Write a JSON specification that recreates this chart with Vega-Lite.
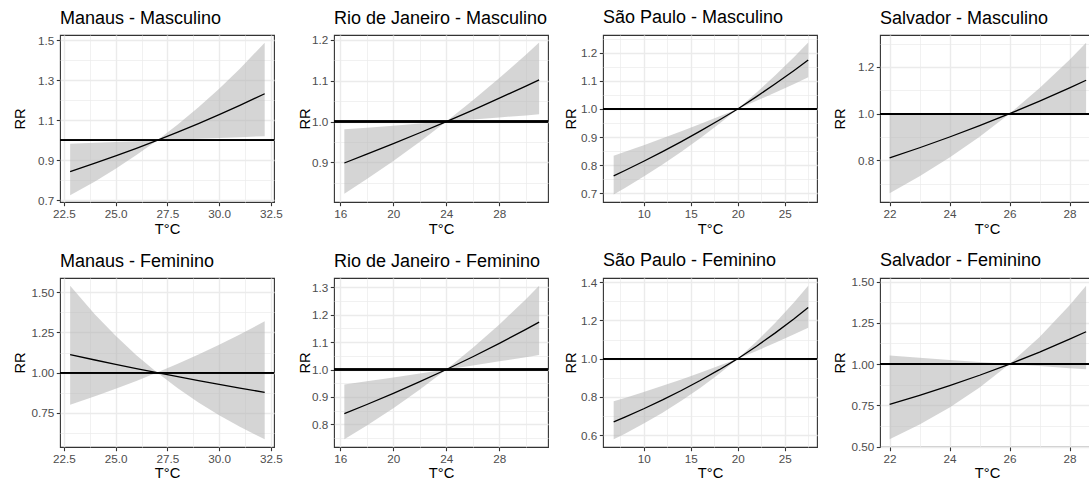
{
  "$schema": "https://vega.github.io/schema/vega-lite/v6.json",
  "padding": {"left": 11, "top": 8, "right": 0, "bottom": 0},
  "columns": 4,
  "spacing": {"row": 13, "column": 13},
  "align": "each",
  "bounds": "full",
  "datasets": {
    "mm": [
      {"t": 22.8, "rr": 0.8443, "lo": 0.7252, "hi": 0.9833},
      {"t": 24, "rr": 0.8861, "lo": 0.7949, "hi": 0.9881},
      {"t": 25, "rr": 0.9226, "lo": 0.8581, "hi": 0.992},
      {"t": 26, "rr": 0.9605, "lo": 0.9264, "hi": 0.996},
      {"t": 27, "rr": 1, "lo": 1, "hi": 1},
      {"t": 28, "rr": 1.0411, "lo": 1.004, "hi": 1.0795},
      {"t": 29, "rr": 1.0839, "lo": 1.008, "hi": 1.1653},
      {"t": 30, "rr": 1.1285, "lo": 1.0121, "hi": 1.258},
      {"t": 31, "rr": 1.1749, "lo": 1.0161, "hi": 1.358},
      {"t": 32.2, "rr": 1.2332, "lo": 1.021, "hi": 1.4886}
    ],
    "mf": [
      {"t": 22.8, "rr": 1.1116, "lo": 0.7994, "hi": 1.5413},
      {"t": 24, "rr": 1.0785, "lo": 0.8522, "hi": 1.3621},
      {"t": 25, "rr": 1.0517, "lo": 0.8989, "hi": 1.2288},
      {"t": 26, "rr": 1.0255, "lo": 0.9481, "hi": 1.1085},
      {"t": 27, "rr": 1, "lo": 1, "hi": 1},
      {"t": 28, "rr": 0.9751, "lo": 0.9021, "hi": 1.0547},
      {"t": 29, "rr": 0.9508, "lo": 0.8138, "hi": 1.1124},
      {"t": 30, "rr": 0.9272, "lo": 0.7342, "hi": 1.1734},
      {"t": 31, "rr": 0.9041, "lo": 0.6623, "hi": 1.2376},
      {"t": 32.2, "rr": 0.8772, "lo": 0.5853, "hi": 1.3194}
    ],
    "rm": [
      {"t": 16.3, "rr": 0.8985, "lo": 0.823, "hi": 0.9809},
      {"t": 18, "rr": 0.92, "lo": 0.8592, "hi": 0.9851},
      {"t": 20, "rr": 0.9459, "lo": 0.9037, "hi": 0.99},
      {"t": 22, "rr": 0.9726, "lo": 0.9507, "hi": 0.995},
      {"t": 24, "rr": 1, "lo": 1, "hi": 1},
      {"t": 26, "rr": 1.0282, "lo": 1.005, "hi": 1.0519},
      {"t": 28, "rr": 1.0572, "lo": 1.0101, "hi": 1.1065},
      {"t": 30, "rr": 1.087, "lo": 1.0151, "hi": 1.1639},
      {"t": 31, "rr": 1.1022, "lo": 1.0177, "hi": 1.1937}
    ],
    "rf": [
      {"t": 16.3, "rr": 0.8396, "lo": 0.7463, "hi": 0.9453},
      {"t": 18, "rr": 0.8727, "lo": 0.7961, "hi": 0.9571},
      {"t": 20, "rr": 0.9132, "lo": 0.859, "hi": 0.9712},
      {"t": 22, "rr": 0.9556, "lo": 0.9268, "hi": 0.9855},
      {"t": 24, "rr": 1, "lo": 1, "hi": 1},
      {"t": 26, "rr": 1.0464, "lo": 1.0147, "hi": 1.079},
      {"t": 28, "rr": 1.095, "lo": 1.0296, "hi": 1.1642},
      {"t": 30, "rr": 1.1459, "lo": 1.0448, "hi": 1.2561},
      {"t": 31, "rr": 1.1722, "lo": 1.0524, "hi": 1.3047}
    ],
    "sm": [
      {"t": 6.8, "rr": 0.7619, "lo": 0.6956, "hi": 0.8334},
      {"t": 8, "rr": 0.781, "lo": 0.7189, "hi": 0.8474},
      {"t": 10, "rr": 0.8139, "lo": 0.7596, "hi": 0.8711},
      {"t": 12, "rr": 0.8481, "lo": 0.8025, "hi": 0.8955},
      {"t": 14, "rr": 0.8837, "lo": 0.8479, "hi": 0.9205},
      {"t": 16, "rr": 0.9209, "lo": 0.8958, "hi": 0.9463},
      {"t": 18, "rr": 0.9596, "lo": 0.9465, "hi": 0.9728},
      {"t": 20, "rr": 1, "lo": 1, "hi": 1},
      {"t": 22, "rr": 1.0437, "lo": 1.0288, "hi": 1.0582},
      {"t": 24, "rr": 1.0894, "lo": 1.0584, "hi": 1.1199},
      {"t": 26, "rr": 1.137, "lo": 1.0889, "hi": 1.1851},
      {"t": 27.5, "rr": 1.1741, "lo": 1.1124, "hi": 1.2365}
    ],
    "sf": [
      {"t": 6.8, "rr": 0.6703, "lo": 0.579, "hi": 0.7772},
      {"t": 8, "rr": 0.6952, "lo": 0.6085, "hi": 0.7952},
      {"t": 10, "rr": 0.7386, "lo": 0.661, "hi": 0.8261},
      {"t": 12, "rr": 0.7848, "lo": 0.7181, "hi": 0.8583},
      {"t": 14, "rr": 0.8338, "lo": 0.78, "hi": 0.8917},
      {"t": 16, "rr": 0.8859, "lo": 0.8474, "hi": 0.9264},
      {"t": 18, "rr": 0.9412, "lo": 0.9205, "hi": 0.9625},
      {"t": 20, "rr": 1, "lo": 1, "hi": 1},
      {"t": 22, "rr": 1.0652, "lo": 1.0406, "hi": 1.0898},
      {"t": 24, "rr": 1.1347, "lo": 1.0829, "hi": 1.1877},
      {"t": 26, "rr": 1.2088, "lo": 1.1268, "hi": 1.2943},
      {"t": 27.5, "rr": 1.2674, "lo": 1.161, "hi": 1.3806}
    ],
    "vm": [
      {"t": 22, "rr": 0.8106, "lo": 0.6597, "hi": 0.996},
      {"t": 23, "rr": 0.8543, "lo": 0.732, "hi": 0.997},
      {"t": 24, "rr": 0.9003, "lo": 0.8122, "hi": 0.998},
      {"t": 25, "rr": 0.9489, "lo": 0.9012, "hi": 0.999},
      {"t": 26, "rr": 1, "lo": 1, "hi": 1},
      {"t": 27, "rr": 1.0539, "lo": 1.001, "hi": 1.1096},
      {"t": 28, "rr": 1.1107, "lo": 1.002, "hi": 1.2312},
      {"t": 28.55, "rr": 1.1433, "lo": 1.0026, "hi": 1.3037}
    ],
    "vf": [
      {"t": 22, "rr": 0.7552, "lo": 0.5434, "hi": 1.0513},
      {"t": 23, "rr": 0.8101, "lo": 0.6329, "hi": 1.0382},
      {"t": 24, "rr": 0.869, "lo": 0.7371, "hi": 1.0253},
      {"t": 25, "rr": 0.9322, "lo": 0.8586, "hi": 1.0126},
      {"t": 26, "rr": 1, "lo": 1, "hi": 1},
      {"t": 27, "rr": 1.0727, "lo": 0.9876, "hi": 1.1647},
      {"t": 28, "rr": 1.1507, "lo": 0.9753, "hi": 1.3566},
      {"t": 28.55, "rr": 1.196, "lo": 0.9686, "hi": 1.4753}
    ]
  },
  "concat": [
    {
      "title": "Manaus - Masculino", "width": 214, "height": 167, "data": {"name": "mm"},
      "layer": [
        {"mark": {"type": "area", "color": "#B3B3B3", "opacity": 0.55, "clip": true},
         "encoding": {
           "x": {"field": "t", "type": "quantitative", "title": "T°C", "scale": {"domain": [22.31, 32.65], "nice": false, "zero": false},
             "axis": {"tickCount": 60, "labelOverlap": false, "labelFlush": false, "titlePadding": 2, "values": [22.5, 23.75, 25, 26.25, 27.5, 28.75, 30, 31.25, 32.5],
               "labelExpr": "indexof([22.5,25,27.5,30,32.5], datum.value) >= 0 ? format(datum.value, '.1f') : ''",
               "tickOpacity": {"condition": {"test": "indexof([22.5,25,27.5,30,32.5], datum.value) >= 0", "value": 1}, "value": 0},
               "gridWidth": {"condition": {"test": "indexof([22.5,25,27.5,30,32.5], datum.value) >= 0", "value": 1.4}, "value": 0.7}}},
           "y": {"field": "lo", "type": "quantitative", "title": "RR", "scale": {"domain": [0.692, 1.527], "nice": false, "zero": false},
             "axis": {"tickCount": 60, "labelOverlap": false, "titlePadding": 13, "values": [0.7, 0.8, 0.9, 1, 1.1, 1.2, 1.3, 1.4, 1.5],
               "labelExpr": "indexof([0.7,0.9,1.1,1.3,1.5], datum.value) >= 0 ? format(datum.value, '.1f') : ''",
               "tickOpacity": {"condition": {"test": "indexof([0.7,0.9,1.1,1.3,1.5], datum.value) >= 0", "value": 1}, "value": 0},
               "gridWidth": {"condition": {"test": "indexof([0.7,0.9,1.1,1.3,1.5], datum.value) >= 0", "value": 1.4}, "value": 0.7}}},
           "y2": {"field": "hi"}}},
        {"mark": {"type": "line", "color": "#000000", "strokeWidth": 1.3, "clip": true},
         "encoding": {"x": {"field": "t", "type": "quantitative", "title": "T°C"}, "y": {"field": "rr", "type": "quantitative", "title": "RR"}}},
        {"mark": {"type": "rule", "color": "#000000", "strokeWidth": 1.4, "clip": true},
         "encoding": {"y": {"datum": 1, "type": "quantitative", "title": "RR"}}}
      ]
    },
    {
      "title": "Rio de Janeiro - Masculino", "width": 214, "height": 167, "data": {"name": "rm"},
      "layer": [
        {"mark": {"type": "area", "color": "#B3B3B3", "opacity": 0.55, "clip": true},
         "encoding": {
           "x": {"field": "t", "type": "quantitative", "title": "T°C", "scale": {"domain": [15.52, 31.67], "nice": false, "zero": false},
             "axis": {"tickCount": 60, "labelOverlap": false, "labelFlush": false, "titlePadding": 2, "values": [16, 18, 20, 22, 24, 26, 28, 30],
               "labelExpr": "indexof([16,20,24,28], datum.value) >= 0 ? format(datum.value, 'd') : ''",
               "tickOpacity": {"condition": {"test": "indexof([16,20,24,28], datum.value) >= 0", "value": 1}, "value": 0},
               "gridWidth": {"condition": {"test": "indexof([16,20,24,28], datum.value) >= 0", "value": 1.4}, "value": 0.7}}},
           "y": {"field": "lo", "type": "quantitative", "title": "RR", "scale": {"domain": [0.803, 1.212], "nice": false, "zero": false},
             "axis": {"tickCount": 60, "labelOverlap": false, "titlePadding": 1.5, "values": [0.85, 0.9, 0.95, 1, 1.05, 1.1, 1.15, 1.2],
               "labelExpr": "indexof([0.9,1,1.1,1.2], datum.value) >= 0 ? format(datum.value, '.1f') : ''",
               "tickOpacity": {"condition": {"test": "indexof([0.9,1,1.1,1.2], datum.value) >= 0", "value": 1}, "value": 0},
               "gridWidth": {"condition": {"test": "indexof([0.9,1,1.1,1.2], datum.value) >= 0", "value": 1.4}, "value": 0.7}}},
           "y2": {"field": "hi"}}},
        {"mark": {"type": "line", "color": "#000000", "strokeWidth": 1.3, "clip": true},
         "encoding": {"x": {"field": "t", "type": "quantitative", "title": "T°C"}, "y": {"field": "rr", "type": "quantitative", "title": "RR"}}},
        {"mark": {"type": "rule", "color": "#000000", "strokeWidth": 1.4, "clip": true},
         "encoding": {"y": {"datum": 1, "type": "quantitative", "title": "RR"}}}
      ]
    },
    {
      "title": "São Paulo - Masculino", "width": 214, "height": 167, "data": {"name": "sm"},
      "layer": [
        {"mark": {"type": "area", "color": "#B3B3B3", "opacity": 0.55, "clip": true},
         "encoding": {
           "x": {"field": "t", "type": "quantitative", "title": "T°C", "scale": {"domain": [5.665, 28.435], "nice": false, "zero": false},
             "axis": {"tickCount": 60, "labelOverlap": false, "labelFlush": false, "titlePadding": 2, "values": [7.5, 10, 12.5, 15, 17.5, 20, 22.5, 25, 27.5],
               "labelExpr": "indexof([10,15,20,25], datum.value) >= 0 ? format(datum.value, 'd') : ''",
               "tickOpacity": {"condition": {"test": "indexof([10,15,20,25], datum.value) >= 0", "value": 1}, "value": 0},
               "gridWidth": {"condition": {"test": "indexof([10,15,20,25], datum.value) >= 0", "value": 1.4}, "value": 0.7}}},
           "y": {"field": "lo", "type": "quantitative", "title": "RR", "scale": {"domain": [0.669, 1.263], "nice": false, "zero": false},
             "axis": {"tickCount": 60, "labelOverlap": false, "titlePadding": 4.5, "values": [0.7, 0.75, 0.8, 0.85, 0.9, 0.95, 1, 1.05, 1.1, 1.15, 1.2, 1.25],
               "labelExpr": "indexof([0.7,0.8,0.9,1,1.1,1.2], datum.value) >= 0 ? format(datum.value, '.1f') : ''",
               "tickOpacity": {"condition": {"test": "indexof([0.7,0.8,0.9,1,1.1,1.2], datum.value) >= 0", "value": 1}, "value": 0},
               "gridWidth": {"condition": {"test": "indexof([0.7,0.8,0.9,1,1.1,1.2], datum.value) >= 0", "value": 1.4}, "value": 0.7}}},
           "y2": {"field": "hi"}}},
        {"mark": {"type": "line", "color": "#000000", "strokeWidth": 1.3, "clip": true},
         "encoding": {"x": {"field": "t", "type": "quantitative", "title": "T°C"}, "y": {"field": "rr", "type": "quantitative", "title": "RR"}}},
        {"mark": {"type": "rule", "color": "#000000", "strokeWidth": 1.4, "clip": true},
         "encoding": {"y": {"datum": 1, "type": "quantitative", "title": "RR"}}}
      ]
    },
    {
      "title": "Salvador - Masculino", "width": 214, "height": 167, "data": {"name": "vm"},
      "layer": [
        {"mark": {"type": "area", "color": "#B3B3B3", "opacity": 0.55, "clip": true},
         "encoding": {
           "x": {"field": "t", "type": "quantitative", "title": "T°C", "scale": {"domain": [21.68, 28.813], "nice": false, "zero": false},
             "axis": {"tickCount": 60, "labelOverlap": false, "labelFlush": false, "titlePadding": 2, "values": [22, 23, 24, 25, 26, 27, 28],
               "labelExpr": "indexof([22,24,26,28], datum.value) >= 0 ? format(datum.value, 'd') : ''",
               "tickOpacity": {"condition": {"test": "indexof([22,24,26,28], datum.value) >= 0", "value": 1}, "value": 0},
               "gridWidth": {"condition": {"test": "indexof([22,24,26,28], datum.value) >= 0", "value": 1.4}, "value": 0.7}}},
           "y": {"field": "lo", "type": "quantitative", "title": "RR", "scale": {"domain": [0.622, 1.337], "nice": false, "zero": false},
             "axis": {"tickCount": 60, "labelOverlap": false, "titlePadding": 12.5, "values": [0.7, 0.8, 0.9, 1, 1.1, 1.2, 1.3],
               "labelExpr": "indexof([0.8,1,1.2], datum.value) >= 0 ? format(datum.value, '.1f') : ''",
               "tickOpacity": {"condition": {"test": "indexof([0.8,1,1.2], datum.value) >= 0", "value": 1}, "value": 0},
               "gridWidth": {"condition": {"test": "indexof([0.8,1,1.2], datum.value) >= 0", "value": 1.4}, "value": 0.7}}},
           "y2": {"field": "hi"}}},
        {"mark": {"type": "line", "color": "#000000", "strokeWidth": 1.3, "clip": true},
         "encoding": {"x": {"field": "t", "type": "quantitative", "title": "T°C"}, "y": {"field": "rr", "type": "quantitative", "title": "RR"}}},
        {"mark": {"type": "rule", "color": "#000000", "strokeWidth": 1.4, "clip": true},
         "encoding": {"y": {"datum": 1, "type": "quantitative", "title": "RR"}}}
      ]
    },
    {
      "title": "Manaus - Feminino", "width": 214, "height": 169, "data": {"name": "mf"},
      "layer": [
        {"mark": {"type": "area", "color": "#B3B3B3", "opacity": 0.55, "clip": true},
         "encoding": {
           "x": {"field": "t", "type": "quantitative", "title": "T°C", "scale": {"domain": [22.31, 32.65], "nice": false, "zero": false},
             "axis": {"tickCount": 60, "labelOverlap": false, "labelFlush": false, "titlePadding": 1, "values": [22.5, 23.75, 25, 26.25, 27.5, 28.75, 30, 31.25, 32.5],
               "labelExpr": "indexof([22.5,25,27.5,30,32.5], datum.value) >= 0 ? format(datum.value, '.1f') : ''",
               "tickOpacity": {"condition": {"test": "indexof([22.5,25,27.5,30,32.5], datum.value) >= 0", "value": 1}, "value": 0},
               "gridWidth": {"condition": {"test": "indexof([22.5,25,27.5,30,32.5], datum.value) >= 0", "value": 1.4}, "value": 0.7}}},
           "y": {"field": "lo", "type": "quantitative", "title": "RR", "scale": {"domain": [0.537, 1.589], "nice": false, "zero": false},
             "axis": {"tickCount": 60, "labelOverlap": false, "titlePadding": 13, "values": [0.625, 0.75, 0.875, 1, 1.125, 1.25, 1.375, 1.5],
               "labelExpr": "indexof([0.75,1,1.25,1.5], datum.value) >= 0 ? format(datum.value, '.2f') : ''",
               "tickOpacity": {"condition": {"test": "indexof([0.75,1,1.25,1.5], datum.value) >= 0", "value": 1}, "value": 0},
               "gridWidth": {"condition": {"test": "indexof([0.75,1,1.25,1.5], datum.value) >= 0", "value": 1.4}, "value": 0.7}}},
           "y2": {"field": "hi"}}},
        {"mark": {"type": "line", "color": "#000000", "strokeWidth": 1.3, "clip": true},
         "encoding": {"x": {"field": "t", "type": "quantitative", "title": "T°C"}, "y": {"field": "rr", "type": "quantitative", "title": "RR"}}},
        {"mark": {"type": "rule", "color": "#000000", "strokeWidth": 1.4, "clip": true},
         "encoding": {"y": {"datum": 1, "type": "quantitative", "title": "RR"}}}
      ]
    },
    {
      "title": "Rio de Janeiro - Feminino", "width": 214, "height": 169, "data": {"name": "rf"},
      "layer": [
        {"mark": {"type": "area", "color": "#B3B3B3", "opacity": 0.55, "clip": true},
         "encoding": {
           "x": {"field": "t", "type": "quantitative", "title": "T°C", "scale": {"domain": [15.52, 31.67], "nice": false, "zero": false},
             "axis": {"tickCount": 60, "labelOverlap": false, "labelFlush": false, "titlePadding": 1, "values": [16, 18, 20, 22, 24, 26, 28, 30],
               "labelExpr": "indexof([16,20,24,28], datum.value) >= 0 ? format(datum.value, 'd') : ''",
               "tickOpacity": {"condition": {"test": "indexof([16,20,24,28], datum.value) >= 0", "value": 1}, "value": 0},
               "gridWidth": {"condition": {"test": "indexof([16,20,24,28], datum.value) >= 0", "value": 1.4}, "value": 0.7}}},
           "y": {"field": "lo", "type": "quantitative", "title": "RR", "scale": {"domain": [0.718, 1.333], "nice": false, "zero": false},
             "axis": {"tickCount": 60, "labelOverlap": false, "titlePadding": 1.5, "values": [0.75, 0.8, 0.85, 0.9, 0.95, 1, 1.05, 1.1, 1.15, 1.2, 1.25, 1.3],
               "labelExpr": "indexof([0.8,0.9,1,1.1,1.2,1.3], datum.value) >= 0 ? format(datum.value, '.1f') : ''",
               "tickOpacity": {"condition": {"test": "indexof([0.8,0.9,1,1.1,1.2,1.3], datum.value) >= 0", "value": 1}, "value": 0},
               "gridWidth": {"condition": {"test": "indexof([0.8,0.9,1,1.1,1.2,1.3], datum.value) >= 0", "value": 1.4}, "value": 0.7}}},
           "y2": {"field": "hi"}}},
        {"mark": {"type": "line", "color": "#000000", "strokeWidth": 1.3, "clip": true},
         "encoding": {"x": {"field": "t", "type": "quantitative", "title": "T°C"}, "y": {"field": "rr", "type": "quantitative", "title": "RR"}}},
        {"mark": {"type": "rule", "color": "#000000", "strokeWidth": 1.4, "clip": true},
         "encoding": {"y": {"datum": 1, "type": "quantitative", "title": "RR"}}}
      ]
    },
    {
      "title": "São Paulo - Feminino", "width": 214, "height": 169, "data": {"name": "sf"},
      "layer": [
        {"mark": {"type": "area", "color": "#B3B3B3", "opacity": 0.55, "clip": true},
         "encoding": {
           "x": {"field": "t", "type": "quantitative", "title": "T°C", "scale": {"domain": [5.665, 28.435], "nice": false, "zero": false},
             "axis": {"tickCount": 60, "labelOverlap": false, "labelFlush": false, "titlePadding": 1, "values": [7.5, 10, 12.5, 15, 17.5, 20, 22.5, 25, 27.5],
               "labelExpr": "indexof([10,15,20,25], datum.value) >= 0 ? format(datum.value, 'd') : ''",
               "tickOpacity": {"condition": {"test": "indexof([10,15,20,25], datum.value) >= 0", "value": 1}, "value": 0},
               "gridWidth": {"condition": {"test": "indexof([10,15,20,25], datum.value) >= 0", "value": 1.4}, "value": 0.7}}},
           "y": {"field": "lo", "type": "quantitative", "title": "RR", "scale": {"domain": [0.539, 1.421], "nice": false, "zero": false},
             "axis": {"tickCount": 60, "labelOverlap": false, "titlePadding": 4.5, "values": [0.6, 0.7, 0.8, 0.9, 1, 1.1, 1.2, 1.3, 1.4],
               "labelExpr": "indexof([0.6,0.8,1,1.2,1.4], datum.value) >= 0 ? format(datum.value, '.1f') : ''",
               "tickOpacity": {"condition": {"test": "indexof([0.6,0.8,1,1.2,1.4], datum.value) >= 0", "value": 1}, "value": 0},
               "gridWidth": {"condition": {"test": "indexof([0.6,0.8,1,1.2,1.4], datum.value) >= 0", "value": 1.4}, "value": 0.7}}},
           "y2": {"field": "hi"}}},
        {"mark": {"type": "line", "color": "#000000", "strokeWidth": 1.3, "clip": true},
         "encoding": {"x": {"field": "t", "type": "quantitative", "title": "T°C"}, "y": {"field": "rr", "type": "quantitative", "title": "RR"}}},
        {"mark": {"type": "rule", "color": "#000000", "strokeWidth": 1.4, "clip": true},
         "encoding": {"y": {"datum": 1, "type": "quantitative", "title": "RR"}}}
      ]
    },
    {
      "title": "Salvador - Feminino", "width": 214, "height": 169, "data": {"name": "vf"},
      "layer": [
        {"mark": {"type": "area", "color": "#B3B3B3", "opacity": 0.55, "clip": true},
         "encoding": {
           "x": {"field": "t", "type": "quantitative", "title": "T°C", "scale": {"domain": [21.68, 28.813], "nice": false, "zero": false},
             "axis": {"tickCount": 60, "labelOverlap": false, "labelFlush": false, "titlePadding": 1, "values": [22, 23, 24, 25, 26, 27, 28],
               "labelExpr": "indexof([22,24,26,28], datum.value) >= 0 ? format(datum.value, 'd') : ''",
               "tickOpacity": {"condition": {"test": "indexof([22,24,26,28], datum.value) >= 0", "value": 1}, "value": 0},
               "gridWidth": {"condition": {"test": "indexof([22,24,26,28], datum.value) >= 0", "value": 1.4}, "value": 0.7}}},
           "y": {"field": "lo", "type": "quantitative", "title": "RR", "scale": {"domain": [0.497, 1.522], "nice": false, "zero": false},
             "axis": {"tickCount": 60, "labelOverlap": false, "titlePadding": 12.5, "values": [0.5, 0.625, 0.75, 0.875, 1, 1.125, 1.25, 1.375, 1.5],
               "labelExpr": "indexof([0.5,0.75,1,1.25,1.5], datum.value) >= 0 ? format(datum.value, '.2f') : ''",
               "tickOpacity": {"condition": {"test": "indexof([0.5,0.75,1,1.25,1.5], datum.value) >= 0", "value": 1}, "value": 0},
               "gridWidth": {"condition": {"test": "indexof([0.5,0.75,1,1.25,1.5], datum.value) >= 0", "value": 1.4}, "value": 0.7}}},
           "y2": {"field": "hi"}}},
        {"mark": {"type": "line", "color": "#000000", "strokeWidth": 1.3, "clip": true},
         "encoding": {"x": {"field": "t", "type": "quantitative", "title": "T°C"}, "y": {"field": "rr", "type": "quantitative", "title": "RR"}}},
        {"mark": {"type": "rule", "color": "#000000", "strokeWidth": 1.4, "clip": true},
         "encoding": {"y": {"datum": 1, "type": "quantitative", "title": "RR"}}}
      ]
    }
  ],
  "config": {
    "font": "Liberation Sans",
    "view": {"stroke": "#333333", "strokeWidth": 1.1},
    "axis": {"domain": false, "grid": true, "gridColor": "#EBEBEB", "tickColor": "#333333", "tickSize": 3.7, "tickWidth": 1.1,
      "labelColor": "#4D4D4D", "labelFontSize": 11.7, "labelFont": "Liberation Sans", "labelPadding": 2.5,
      "labelOverlap": false, "labelFlush": false, "titleFont": "Liberation Sans", "titleFontSize": 14.7,
      "titleFontWeight": "normal", "titleColor": "#000000"},
    "axisY": {"minExtent": 20, "maxExtent": 20},
    "title": {"font": "Liberation Sans", "fontSize": 18, "fontWeight": "normal", "color": "#000000", "anchor": "start", "frame": "group", "offset": 7}
  }
}
